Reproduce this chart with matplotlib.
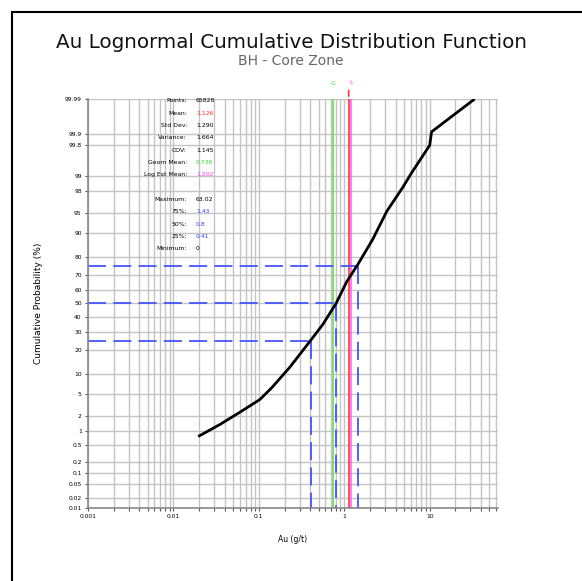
#! /usr/bin/env python
'''
Lognormal probability plot of Au grades with summary statistics
'''

from statistics import NormalDist
import numpy as np
import matplotlib
matplotlib.use("Agg")
import matplotlib.pyplot as plt
from matplotlib.patches import Rectangle
from matplotlib.ticker import FixedLocator, FixedFormatter, NullFormatter

# cumulative curve read as (grade g/t, cumulative %)
au_grade = [0.0195, 0.035, 0.06, 0.103, 0.142, 0.23, 0.395, 0.56, 0.8,
            1.07, 1.44, 2.15, 3.14, 4.83, 6.15, 10.0, 10.5, 33.6]
cum_prob = [0.78, 1.39, 2.4, 4.05, 6.3, 12.3, 24.5, 35.1, 50.0,
            65.5, 76.1, 87.8, 95.3, 98.26, 99.13, 99.8, 99.91, 99.99]

# quartiles
pct_levels = [25, 50, 75]
pct_values = [0.41, 0.8, 1.43]

# summary statistics
stat_labels = ["Points:", "Mean:", "Std Dev:", "Variance:", "COV:", "Geom Mean:",
               "Log Est Mean:", "", "Maximum:", "75%:", "50%:", "25%:", "Minimum:"]
stat_values = ["65828", "1.126", "1.290", "1.664", "1.145", "0.736",
               "1.202", "", "63.02", "1.43", "0.8", "0.41", "0"]
stat_colors = ["black", "#ff2a2a", "black", "black", "black", "#33dd33",
               "#ff33ff", "black", "black", "#3344ff", "#3344ff", "#3344ff", "black"]

mean_val = 1.126
geom_mean = 0.736
log_est_mean = 1.202
max_val = 63.02

prob_ticks = [0.01, 0.02, 0.05, 0.1, 0.2, 0.5, 1, 2, 5, 10, 20, 30, 40, 50,
              60, 70, 80, 90, 95, 98, 99, 99.8, 99.9, 99.99]
prob_labels = ["0.01", "0.02", "0.05", "0.1", "0.2", "0.5", "1", "2", "5", "10",
               "20", "30", "40", "50", "60", "70", "80", "90", "95", "98", "99",
               "99.8", "99.9", "99.99"]
grade_ticks = [0.001, 0.01, 0.1, 1, 10]
grade_labels = ["0.001", "0.01", "0.1", "1", "10"]

ND = NormalDist()
_ppf = np.vectorize(ND.inv_cdf, otypes=[float])
_cdf = np.vectorize(ND.cdf, otypes=[float])


def prob_fwd(p):
    p = np.clip(np.asarray(p, dtype=float), 1e-7, 100 - 1e-7)
    return _ppf(p / 100.0)


def prob_inv(z):
    return _cdf(np.asarray(z, dtype=float)) * 100.0


W, H = 582, 581
fig = plt.figure(figsize=(W / 100, H / 100), dpi=100)
fig.patch.set_facecolor("white")

# frame round the page
fig.add_artist(Rectangle((12 / W, -0.05), 1.2, 1 - 12 / H + 0.05, transform=fig.transFigure,
                         fill=False, edgecolor="black", linewidth=1.5))

ax = fig.add_axes([88 / W, 1 - 508 / H, 410 / W, 409 / H])
ax.set_xscale("log")
ax.set_yscale("function", functions=(prob_fwd, prob_inv))
ax.set_xlim(0.001, max_val)
ax.set_ylim(0.01, 99.99)

minor_x = [m * 10.0 ** e for e in range(-3, 2) for m in range(2, 10) if m * 10.0 ** e < max_val]
ax.xaxis.set_major_locator(FixedLocator(grade_ticks))
ax.xaxis.set_major_formatter(FixedFormatter(grade_labels))
ax.xaxis.set_minor_locator(FixedLocator(minor_x))
ax.xaxis.set_minor_formatter(NullFormatter())
ax.yaxis.set_major_locator(FixedLocator(prob_ticks))
ax.yaxis.set_major_formatter(FixedFormatter(prob_labels))
ax.yaxis.set_minor_locator(FixedLocator([]))

ax.grid(True, which="both", axis="x", color="#c4c4c4", linewidth=1.0)
ax.grid(True, which="major", axis="y", color="#c4c4c4", linewidth=1.0)
ax.set_axisbelow(True)

for side in ["top", "right"]:
    ax.spines[side].set_visible(False)
for side in ["left", "bottom"]:
    ax.spines[side].set_color("#888888")
    ax.spines[side].set_linewidth(1.2)
ax.tick_params(axis="both", which="both", labelsize=4.3, length=2.5, width=0.8,
               color="#555555", pad=2)

# mean lines
ax.axvline(geom_mean, color="#66dd55", linewidth=1.2)
ax.plot([mean_val, mean_val], [0.01, 99.99], color="#ff3333", linewidth=1.2)
ax.plot([log_est_mean, log_est_mean], [0.01, 99.99], color="#ff66ff", linewidth=1.2)
ax.annotate("", xy=(mean_val, 1), xycoords=("data", "axes fraction"),
            xytext=(mean_val, 1.028), textcoords=("data", "axes fraction"),
            arrowprops=dict(arrowstyle="-", color="#ff3333", linewidth=1.2))
ax.text(geom_mean, 1.038, "G", color="#33dd33", fontsize=4.5, ha="center", va="center",
        transform=ax.get_xaxis_transform())
ax.text(log_est_mean, 1.04, "L", color="#ff33ff", fontsize=4.5, ha="center", va="center",
        transform=ax.get_xaxis_transform())

# quartile guides
for lvl, val in zip(pct_levels, pct_values):
    ax.plot([0.001, val], [lvl, lvl], color="#4455ff", linewidth=1.3, dashes=(10, 4))
    ax.plot([val, val], [lvl, 0.01], color="#4455ff", linewidth=1.3, dashes=(10, 4))

ax.plot(au_grade, cum_prob, color="black", linewidth=2.0, solid_capstyle="butt",
        solid_joinstyle="round")

# statistics table
y0, dy = 101, 12.3
for i, (lab, val, col) in enumerate(zip(stat_labels, stat_values, stat_colors)):
    y = 1 - (y0 + i * dy) / H
    fig.text(187 / W, y, lab, fontsize=4.4, ha="right", va="center", color="black")
    fig.text(196 / W, y, val, fontsize=4.4, ha="left", va="center", color=col)

ax.set_xlabel("Au (g/t)", fontsize=5.5, labelpad=11)
ax.set_ylabel("Cumulative Probability (%)", fontsize=6.5, labelpad=16)

fig.text(0.5, 1 - 42 / H, "Au Lognormal Cumulative Distribution Function",
         fontsize=14.3, ha="center", va="center", color="#111111")
fig.text(0.5, 1 - 61 / H, "BH - Core Zone", fontsize=10, ha="center", va="center",
         color="#666666")

fig.savefig("out.png", dpi=100, facecolor="white")
